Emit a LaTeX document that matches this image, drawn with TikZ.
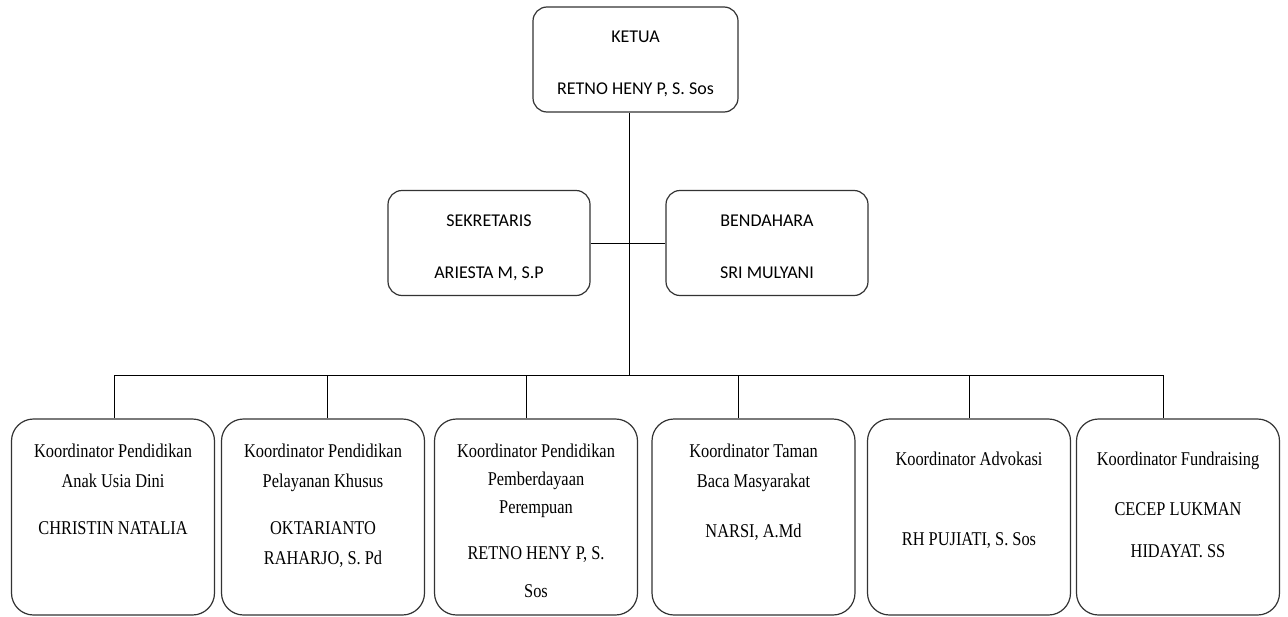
\documentclass[tikz,border=0pt]{standalone}
\usepackage{fontspec}
\newfontfamily\headfont{Carlito}
\newfontfamily\coordfont{Liberation Serif}[FakeStretch=0.84]
\newcommand{\headtext}[2]{\parbox[t][105pt][t]{#1}{\headfont\fontsize{18}{52}\selectfont\centering\vspace*{24.4pt}#2}}
\newcommand{\coordtext}[2][24.7pt]{\parbox[t][196pt][t]{203pt}{\coordfont\fontsize{19.5}{30}\selectfont\centering\vspace*{#1}#2}}
\begin{document}
\begin{tikzpicture}[x=1pt,y=-1pt,
  headbox/.style={draw=black!80, line width=1.2pt, rounded corners=14pt, inner sep=0pt},
  coordbox/.style={draw=black!80, line width=1.2pt, rounded corners=22pt, inner sep=0pt},
  link/.style={black, line width=1pt}]
  \useasboundingbox (0,0) rectangle (1288,616);

  % pengurus inti
  \node [headbox] (ketua) at (635.5,59.5) {\headtext{205pt}{KETUA\\RETNO HENY P, S. Sos}};
  \node [headbox] (sekretaris) at (489,243) {\headtext{202pt}{SEKRETARIS\\ARIESTA M, S.P}};
  \node [headbox] (bendahara) at (767,243) {\headtext{202pt}{BENDAHARA\\SRI MULYANI}};

  % koordinator
  \node [coordbox] (paud) at (113,517) {\coordtext{Koordinator Pendidikan\\Anak Usia Dini\\[17pt]CHRISTIN NATALIA}};
  \node [coordbox] (plk) at (323,517) {\coordtext{Koordinator Pendidikan\\Pelayanan Khusus\\[17pt]OKTARIANTO\\RAHARJO, S. Pd}};
  \node [coordbox] (ppp) at (536,517) {\coordtext{Koordinator Pendidikan\\[-2pt]Pemberdayaan\\[-2pt]Perempuan\\[16pt]RETNO HENY P, S.\\[8pt]Sos}};
  \node [coordbox] (tbm) at (753.5,517) {\coordtext{Koordinator  Taman\\Baca Masyarakat\\[20pt]NARSI, A.Md}};
  \node [coordbox] (advokasi) at (969,517) {\coordtext[32.7pt]{Koordinator Advokasi\\[50pt]RH PUJIATI, S. Sos}};
  \node [coordbox] (fundraising) at (1178,517) {\coordtext[32.7pt]{Koordinator Fundraising\\[20pt]CECEP LUKMAN\\[12pt]HIDAYAT. SS}};

  % garis
  \coordinate (trunk) at (629,375);
  \coordinate (b1) at (114,375);
  \coordinate (b2) at (327,375);
  \coordinate (b3) at (526,375);
  \coordinate (b4) at (738,375);
  \coordinate (b5) at (969,375);
  \coordinate (b6) at (1163,375);

  \draw [link] (trunk |- ketua.south) -- (trunk);
  \draw [link] (sekretaris.east) -- (bendahara.west);
  \draw [link] (b1) -- (b6);
  \draw [link] (b1) -- (b1 |- paud.north);
  \draw [link] (b2) -- (b2 |- plk.north);
  \draw [link] (b3) -- (b3 |- ppp.north);
  \draw [link] (b4) -- (b4 |- tbm.north);
  \draw [link] (b5) -- (b5 |- advokasi.north);
  \draw [link] (b6) -- (b6 |- fundraising.north);
\end{tikzpicture}
\end{document}
